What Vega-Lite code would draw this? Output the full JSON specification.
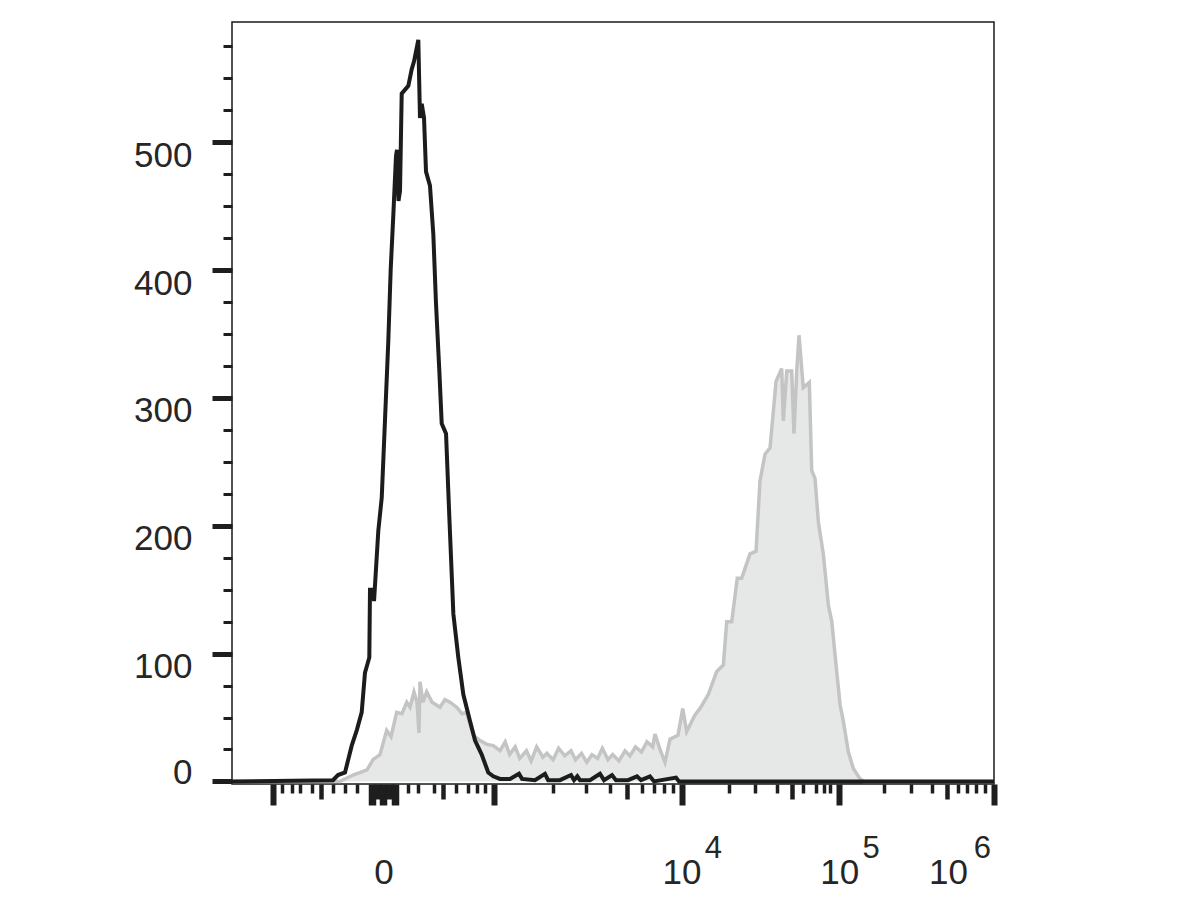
{
  "$schema": "https://vega.github.io/schema/vega-lite/v6.json",
  "autosize": {"type": "none"},
  "padding": {"left": 232, "top": 22, "right": 206, "bottom": 116},
  "width": 762,
  "height": 762,
  "background": "white",
  "config": {
    "view": {"stroke": "#1a1a1a", "strokeWidth": 1.5},
    "font": "Liberation Sans"
  },
  "datasets": {
    "stained": [
      {"ch": 0, "count": 0}, {"ch": 141.7, "count": 0}, {"ch": 158.8, "count": 5}, {"ch": 177.2, "count": 9},
      {"ch": 185.0, "count": 17}, {"ch": 194.2, "count": 21}, {"ch": 203.0, "count": 40}, {"ch": 208.7, "count": 35},
      {"ch": 216.1, "count": 54}, {"ch": 223.1, "count": 53}, {"ch": 229.3, "count": 62}, {"ch": 233.6, "count": 58},
      {"ch": 238.8, "count": 70}, {"ch": 242.8, "count": 62}, {"ch": 245.4, "count": 38}, {"ch": 246.7, "count": 78},
      {"ch": 250.6, "count": 62}, {"ch": 255.5, "count": 70}, {"ch": 262.5, "count": 62}, {"ch": 273.0, "count": 58},
      {"ch": 279.5, "count": 64}, {"ch": 286.1, "count": 62}, {"ch": 294.9, "count": 58}, {"ch": 301.8, "count": 53},
      {"ch": 308.0, "count": 54}, {"ch": 316.7, "count": 36}, {"ch": 325.5, "count": 32}, {"ch": 334.6, "count": 29},
      {"ch": 342.9, "count": 28}, {"ch": 351.7, "count": 24}, {"ch": 358.5, "count": 31}, {"ch": 364.4, "count": 21},
      {"ch": 371.6, "count": 27}, {"ch": 377.6, "count": 18}, {"ch": 386.4, "count": 24}, {"ch": 392.6, "count": 16},
      {"ch": 399.8, "count": 27}, {"ch": 408.0, "count": 19}, {"ch": 413.2, "count": 22}, {"ch": 421.4, "count": 17},
      {"ch": 428.6, "count": 26}, {"ch": 436.7, "count": 20}, {"ch": 444.9, "count": 24}, {"ch": 450.8, "count": 17},
      {"ch": 458.7, "count": 22}, {"ch": 465.6, "count": 15}, {"ch": 472.4, "count": 21}, {"ch": 479.8, "count": 18},
      {"ch": 486.0, "count": 26}, {"ch": 493.4, "count": 17}, {"ch": 499.6, "count": 21}, {"ch": 507.8, "count": 16},
      {"ch": 515.8, "count": 24}, {"ch": 522.3, "count": 20}, {"ch": 529.5, "count": 27}, {"ch": 537.4, "count": 23},
      {"ch": 544.5, "count": 31}, {"ch": 552.1, "count": 27}, {"ch": 555.1, "count": 37}, {"ch": 561.7, "count": 25},
      {"ch": 568.2, "count": 15}, {"ch": 574.8, "count": 33}, {"ch": 585.3, "count": 36}, {"ch": 591.5, "count": 57},
      {"ch": 596.7, "count": 39}, {"ch": 607.6, "count": 52}, {"ch": 614.1, "count": 57}, {"ch": 625.1, "count": 68},
      {"ch": 636.1, "count": 86}, {"ch": 644.8, "count": 91}, {"ch": 649.2, "count": 125}, {"ch": 655.8, "count": 125},
      {"ch": 663.1, "count": 159}, {"ch": 668.9, "count": 159}, {"ch": 679.8, "count": 178}, {"ch": 687.7, "count": 180},
      {"ch": 692.9, "count": 235}, {"ch": 699.5, "count": 256}, {"ch": 706.1, "count": 261}, {"ch": 714.0, "count": 313},
      {"ch": 721.4, "count": 323}, {"ch": 723.5, "count": 282}, {"ch": 728.0, "count": 321}, {"ch": 734.5, "count": 321},
      {"ch": 737.5, "count": 272}, {"ch": 741.1, "count": 321}, {"ch": 744.1, "count": 349}, {"ch": 749.7, "count": 308},
      {"ch": 757.6, "count": 312}, {"ch": 760.8, "count": 243}, {"ch": 765.1, "count": 237}, {"ch": 769.5, "count": 203},
      {"ch": 776.0, "count": 178}, {"ch": 782.6, "count": 138}, {"ch": 787.1, "count": 125}, {"ch": 791.4, "count": 99},
      {"ch": 798.0, "count": 60}, {"ch": 802.3, "count": 47}, {"ch": 808.9, "count": 23}, {"ch": 815.5, "count": 10},
      {"ch": 824.3, "count": 2}, {"ch": 829.5, "count": 0}, {"ch": 1000, "count": 0}
    ],
    "control": [
      {"ch": 0, "count": 0}, {"ch": 132.5, "count": 1}, {"ch": 139.1, "count": 5}, {"ch": 148.3, "count": 7},
      {"ch": 157.1, "count": 28}, {"ch": 163.7, "count": 40}, {"ch": 170.2, "count": 54}, {"ch": 174.5, "count": 85},
      {"ch": 180.2, "count": 97}, {"ch": 181.1, "count": 150}, {"ch": 185.4, "count": 150}, {"ch": 186.4, "count": 141},
      {"ch": 192.0, "count": 196}, {"ch": 196.5, "count": 222}, {"ch": 200.8, "count": 283}, {"ch": 205.1, "count": 344},
      {"ch": 208.3, "count": 401}, {"ch": 211.7, "count": 443}, {"ch": 215.2, "count": 489}, {"ch": 216.5, "count": 494},
      {"ch": 218.5, "count": 454}, {"ch": 220.5, "count": 462}, {"ch": 222.7, "count": 538}, {"ch": 231.4, "count": 544},
      {"ch": 235.8, "count": 557}, {"ch": 238.8, "count": 563}, {"ch": 244.5, "count": 580}, {"ch": 246.7, "count": 519},
      {"ch": 249.0, "count": 530}, {"ch": 252.0, "count": 519}, {"ch": 254.6, "count": 477}, {"ch": 259.8, "count": 466},
      {"ch": 264.2, "count": 428}, {"ch": 267.7, "count": 374}, {"ch": 272.1, "count": 321}, {"ch": 275.2, "count": 280},
      {"ch": 280.9, "count": 272}, {"ch": 285.2, "count": 207}, {"ch": 290.5, "count": 131}, {"ch": 297.0, "count": 97},
      {"ch": 303.6, "count": 68}, {"ch": 312.4, "count": 47}, {"ch": 319.0, "count": 32}, {"ch": 327.7, "count": 21},
      {"ch": 336.3, "count": 7}, {"ch": 342.9, "count": 4}, {"ch": 351.7, "count": 2}, {"ch": 364.8, "count": 2},
      {"ch": 376.6, "count": 6}, {"ch": 380.6, "count": 2}, {"ch": 397.6, "count": 1}, {"ch": 410.7, "count": 6},
      {"ch": 414.9, "count": 1}, {"ch": 430.4, "count": 1}, {"ch": 444.9, "count": 5}, {"ch": 448.8, "count": 1},
      {"ch": 453.2, "count": 4}, {"ch": 456.7, "count": 1}, {"ch": 469.8, "count": 1}, {"ch": 482.9, "count": 6},
      {"ch": 488.2, "count": 1}, {"ch": 498.7, "count": 5}, {"ch": 503.9, "count": 1}, {"ch": 519.7, "count": 1},
      {"ch": 531.5, "count": 4}, {"ch": 536.8, "count": 1}, {"ch": 548.5, "count": 4}, {"ch": 553.8, "count": 0},
      {"ch": 582.7, "count": 3}, {"ch": 586.6, "count": 0}, {"ch": 1000, "count": 0}
    ],
    "exponents": [
      {"ch": 631.6, "exp": "4"},
      {"ch": 838.6, "exp": "5"},
      {"ch": 984.9, "exp": "6"}
    ]
  },
  "layer": [
    {
      "data": {"name": "stained"},
      "mark": {"type": "area", "fill": "#dcdede", "line": {"color": "#c4c4c4", "strokeWidth": 3.5}},
      "encoding": {
        "x": {
          "field": "ch", "type": "quantitative",
          "scale": {"domain": [0, 1000], "nice": false, "zero": false},
          "axis": {
            "title": null,
            "domain": false,
            "grid": false,
            "tickCount": 500,
            "values": [54.2, 65.7, 78.3, 89.2, 105.4, 116.8, 132.9, 148.3, 163.6, 183.1, 191.0, 198.8, 206.7, 213.9, 230.6, 244.5, 265.5, 277.3, 293.6, 309.3, 321.1, 332.0, 343.8, 421.7, 464.6, 496.1, 518.8, 538.5, 554.2, 567.0, 578.3, 589.9, 652.6, 686.4, 714.8, 734.5, 749.7, 766.0, 776.9, 784.8, 796.9, 855.8, 890.8, 918.0, 937.7, 952.9, 964.7, 977.0, 987.9, 1000],
            "tickColor": "#1e1e1e",
            "tickSize": {
              "condition": [
                {"test": "indexof([54.2, 343.8, 589.9, 796.9, 1000, 183.1, 198.8, 213.9], datum.value) >= 0", "value": 21},
                {"test": "indexof([116.8, 277.3, 518.8, 734.5, 937.7, 191.0, 206.7], datum.value) >= 0", "value": 15}
              ],
              "value": 9
            },
            "tickWidth": {
              "condition": [
                {"test": "indexof([183.1, 198.8, 213.9, 191.0, 206.7], datum.value) >= 0", "value": 7.5},
                {"test": "indexof([54.2, 343.8, 589.9, 796.9, 1000], datum.value) >= 0", "value": 6},
                {"test": "indexof([116.8, 277.3, 518.8, 734.5, 937.7], datum.value) >= 0", "value": 4.5}
              ],
              "value": 3.5
            },
            "labelExpr": "datum.value == 198.8 ? '0' : (datum.value == 589.9 || datum.value == 796.9 || datum.value == 1000) ? '10' : ''",
            "labelFontSize": 35,
            "labelFont": "Liberation Sans",
            "labelColor": "#262626",
            "labelPadding": 50,
            "labelOverlap": false,
            "labelFlush": false,
            "labelBound": false,
            "labelOffset": {"condition": {"test": "datum.value == 1000", "value": -46}, "value": 0}
          }
        },
        "y": {
          "field": "count", "type": "quantitative",
          "scale": {"domain": [-2, 594], "nice": false, "zero": false},
          "axis": {
            "title": null,
            "domain": false,
            "grid": false,
            "tickCount": 500,
            "values": [0, 25, 50, 75, 100, 125, 150, 175, 200, 225, 250, 275, 300, 325, 350, 375, 400, 425, 450, 475, 500, 525, 550, 575],
            "tickColor": "#1e1e1e",
            "tickSize": {"condition": {"test": "datum.value % 100 == 0", "value": 20}, "value": 9},
            "tickWidth": {"condition": {"test": "datum.value % 100 == 0", "value": 5}, "value": 3},
            "labelExpr": "datum.value % 100 == 0 ? datum.label : ''",
            "labelFontSize": 35,
            "labelFont": "Liberation Sans",
            "labelColor": "#262626",
            "labelPadding": 20,
            "labelOverlap": false,
            "labelFlush": false,
            "labelBound": false,
            "labelOffset": {"condition": {"test": "datum.value == 0", "value": -9}, "value": 13}
          }
        }
      }
    },
    {
      "data": {"name": "control"},
      "mark": {"type": "line", "color": "#1c1c1c", "strokeWidth": 4, "strokeJoin": "miter"},
      "encoding": {
        "x": {"field": "ch", "type": "quantitative"},
        "y": {"field": "count", "type": "quantitative"}
      }
    },
    {
      "data": {"name": "exponents"},
      "mark": {"type": "text", "fontSize": 31, "font": "Liberation Sans", "color": "#262626", "baseline": "alphabetic", "align": "center"},
      "encoding": {
        "x": {"field": "ch", "type": "quantitative"},
        "y": {"datum": -59.9, "type": "quantitative"},
        "text": {"field": "exp"}
      }
    }
  ]
}
